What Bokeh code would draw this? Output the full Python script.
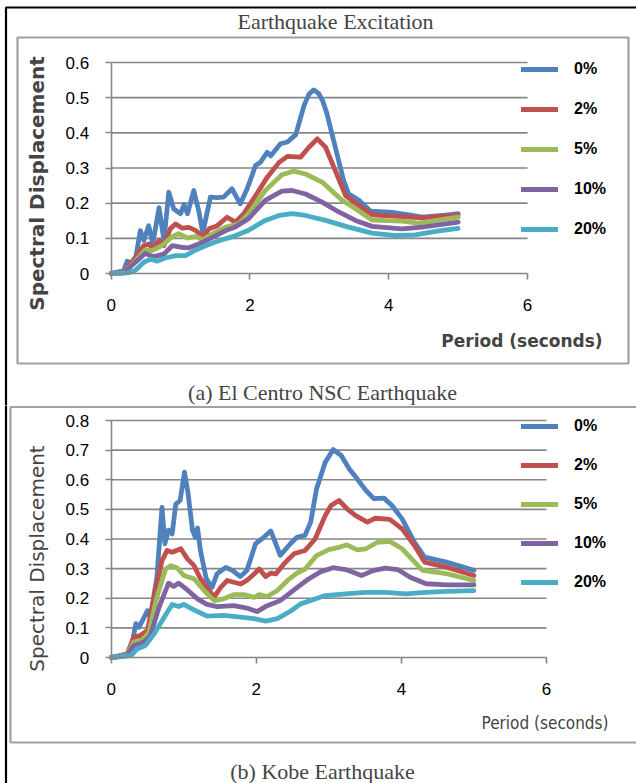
from math import pi

from bokeh.embed import file_html
from bokeh.layouts import column
from bokeh.models import (BoxAnnotation, FixedTicker, Label, Legend, LegendItem,
                          LinearAxis, Range1d)
from bokeh.plotting import figure
from bokeh.resources import INLINE

# ─── data ─────────────────────────────────────────────────────────────────
damping = ["0%", "2%", "5%", "10%", "20%"]
colors = ["#4F81BD", "#C0504D", "#9BBB59", "#8064A2", "#4BACC6"]
x_ticks = [0, 2, 4, 6]
elcentro_y_ticks = [0, 0.1, 0.2, 0.3, 0.4, 0.5, 0.6]
kobe_y_ticks = [0, 0.1, 0.2, 0.3, 0.4, 0.5, 0.6, 0.7, 0.8]

# El Centro NSC
elcentro_t_0 = [0, 0.18, 0.23, 0.30, 0.35, 0.42, 0.47, 0.54, 0.60, 0.69, 0.76, 0.83, 0.90,
                1.00, 1.05, 1.10, 1.19, 1.26, 1.32, 1.43, 1.53, 1.62, 1.74, 1.86, 1.96,
                2.08, 2.15, 2.25, 2.30, 2.44, 2.54, 2.66, 2.78, 2.85, 2.92, 2.99, 3.05,
                3.11, 3.23, 3.35, 3.42, 3.57, 3.74, 4.05, 4.29, 4.48, 4.86, 5.0]
elcentro_sd_0 = [0, 0.008, 0.035, 0.027, 0.041, 0.122, 0.094, 0.136, 0.085, 0.187, 0.094,
                 0.231, 0.184, 0.170, 0.196, 0.170, 0.236, 0.179, 0.116, 0.217, 0.216,
                 0.217, 0.241, 0.198, 0.241, 0.307, 0.316, 0.345, 0.335, 0.369, 0.374,
                 0.395, 0.478, 0.510, 0.522, 0.512, 0.490, 0.454, 0.359, 0.264, 0.227,
                 0.208, 0.177, 0.174, 0.167, 0.160, 0.167, 0.170]
elcentro_t_2 = [0, 0.18, 0.35, 0.47, 0.54, 0.61, 0.69, 0.76, 0.85, 0.93, 1.02, 1.12, 1.22,
                1.32, 1.41, 1.53, 1.67, 1.79, 1.91, 2.08, 2.25, 2.42, 2.54, 2.73, 2.85,
                2.97, 3.09, 3.21, 3.38, 3.57, 3.76, 4.19, 4.48, 5.0]
elcentro_sd_2 = [0, 0.004, 0.046, 0.079, 0.084, 0.070, 0.094, 0.079, 0.127, 0.141, 0.129,
                 0.131, 0.122, 0.103, 0.127, 0.136, 0.160, 0.146, 0.170, 0.221, 0.274,
                 0.316, 0.333, 0.331, 0.359, 0.383, 0.359, 0.302, 0.221, 0.193, 0.167,
                 0.162, 0.158, 0.166]
elcentro_t_5 = [0, 0.18, 0.35, 0.49, 0.59, 0.73, 0.88, 0.97, 1.10, 1.22, 1.32, 1.46, 1.65,
                1.84, 1.98, 2.22, 2.46, 2.63, 2.80, 3.04, 3.33, 3.52, 3.76, 4.19, 4.43, 5.0]
elcentro_sd_5 = [0, 0.002, 0.036, 0.067, 0.065, 0.079, 0.105, 0.113, 0.101, 0.105, 0.096,
                 0.113, 0.132, 0.141, 0.170, 0.236, 0.281, 0.291, 0.283, 0.260, 0.208,
                 0.184, 0.152, 0.149, 0.143, 0.160]
elcentro_t_10 = [0, 0.18, 0.35, 0.49, 0.61, 0.76, 0.88, 1.02, 1.12, 1.29, 1.46, 1.65, 1.79,
                 1.98, 2.22, 2.46, 2.61, 2.80, 3.04, 3.28, 3.52, 3.76, 4.19, 4.48, 5.0]
elcentro_sd_10 = [0, 0.002, 0.032, 0.057, 0.048, 0.055, 0.079, 0.074, 0.073, 0.086, 0.103,
                  0.122, 0.132, 0.156, 0.208, 0.234, 0.236, 0.226, 0.203, 0.175, 0.151,
                  0.134, 0.127, 0.132, 0.146]
elcentro_t_20 = [0, 0.25, 0.35, 0.47, 0.57, 0.66, 0.78, 0.93, 1.07, 1.22, 1.36, 1.55, 1.74,
                 1.98, 2.22, 2.42, 2.61, 2.80, 3.09, 3.42, 3.76, 4.10, 4.38, 4.72, 5.0]
elcentro_sd_20 = [0, 0.002, 0.009, 0.032, 0.041, 0.035, 0.044, 0.051, 0.051, 0.067, 0.079,
                  0.093, 0.104, 0.123, 0.151, 0.165, 0.170, 0.165, 0.151, 0.132, 0.115,
                  0.108, 0.110, 0.121, 0.128]

# Kobe
kobe_t_0 = [0, 0.20, 0.27, 0.34, 0.38, 0.43, 0.50, 0.54, 0.63, 0.70, 0.74, 0.79, 0.84,
            0.89, 0.95, 1.01, 1.06, 1.12, 1.16, 1.19, 1.23, 1.31, 1.39, 1.46, 1.58, 1.67,
            1.78, 1.87, 1.99, 2.08, 2.20, 2.33, 2.47, 2.56, 2.67, 2.75, 2.83, 2.95, 3.06,
            3.17, 3.28, 3.39, 3.51, 3.62, 3.76, 3.87, 4.01, 4.18, 4.32, 4.62, 5.0]
kobe_sd_0 = [0, 0.006, 0.024, 0.114, 0.102, 0.124, 0.158, 0.136, 0.271, 0.507, 0.384,
             0.430, 0.417, 0.518, 0.530, 0.626, 0.553, 0.430, 0.406, 0.437, 0.361, 0.266,
             0.237, 0.283, 0.304, 0.294, 0.273, 0.294, 0.384, 0.401, 0.427, 0.345, 0.384,
             0.406, 0.412, 0.457, 0.569, 0.659, 0.702, 0.682, 0.637, 0.603, 0.564, 0.536,
             0.538, 0.513, 0.468, 0.389, 0.339, 0.322, 0.294]
kobe_t_2 = [0, 0.22, 0.31, 0.40, 0.50, 0.61, 0.70, 0.77, 0.84, 0.96, 1.05, 1.14, 1.23,
            1.35, 1.42, 1.51, 1.60, 1.69, 1.78, 1.87, 1.97, 2.04, 2.13, 2.20, 2.27, 2.38,
            2.52, 2.67, 2.81, 2.95, 3.03, 3.14, 3.25, 3.37, 3.53, 3.64, 3.84, 4.01, 4.18,
            4.32, 4.62, 5.0]
kobe_sd_2 = [0, 0.012, 0.068, 0.074, 0.091, 0.226, 0.327, 0.361, 0.355, 0.367, 0.333,
             0.311, 0.266, 0.226, 0.204, 0.237, 0.260, 0.254, 0.248, 0.260, 0.282, 0.299,
             0.273, 0.285, 0.282, 0.316, 0.350, 0.361, 0.400, 0.479, 0.513, 0.530, 0.502,
             0.479, 0.457, 0.470, 0.466, 0.434, 0.378, 0.322, 0.305, 0.277]
kobe_t_5 = [0, 0.22, 0.31, 0.43, 0.52, 0.63, 0.75, 0.82, 0.91, 1.00, 1.14, 1.28, 1.42,
            1.55, 1.69, 1.83, 1.97, 2.04, 2.15, 2.29, 2.43, 2.56, 2.67, 2.83, 3.00, 3.14,
            3.25, 3.39, 3.51, 3.67, 3.84, 4.01, 4.29, 4.62, 5.0]
kobe_sd_5 = [0, 0.010, 0.052, 0.060, 0.085, 0.204, 0.299, 0.310, 0.302, 0.277, 0.266,
             0.226, 0.192, 0.198, 0.212, 0.212, 0.203, 0.212, 0.206, 0.226, 0.260, 0.285,
             0.298, 0.344, 0.364, 0.372, 0.380, 0.363, 0.367, 0.389, 0.392, 0.367, 0.294,
             0.283, 0.260]
kobe_t_10 = [0, 0.22, 0.31, 0.45, 0.54, 0.66, 0.79, 0.86, 0.93, 1.05, 1.19, 1.32, 1.46,
             1.69, 1.87, 2.01, 2.15, 2.33, 2.52, 2.61, 2.72, 2.89, 3.06, 3.23, 3.45, 3.62,
             3.78, 3.95, 4.12, 4.34, 4.62, 5.0]
kobe_sd_10 = [0, 0.007, 0.040, 0.052, 0.074, 0.170, 0.251, 0.240, 0.251, 0.228, 0.198,
              0.179, 0.172, 0.175, 0.167, 0.155, 0.175, 0.192, 0.228, 0.245, 0.265, 0.290,
              0.303, 0.297, 0.277, 0.294, 0.302, 0.297, 0.271, 0.249, 0.245, 0.245]
kobe_t_20 = [0, 0.27, 0.36, 0.47, 0.59, 0.73, 0.84, 0.93, 1.00, 1.14, 1.32, 1.55, 1.78,
             1.97, 2.13, 2.29, 2.47, 2.61, 2.79, 2.95, 3.23, 3.51, 3.78, 4.06, 4.34, 4.62,
             5.0]
kobe_sd_20 = [0, 0.006, 0.029, 0.040, 0.079, 0.136, 0.179, 0.172, 0.179, 0.161, 0.140,
              0.142, 0.136, 0.131, 0.123, 0.131, 0.156, 0.181, 0.196, 0.209, 0.215, 0.220,
              0.220, 0.215, 0.220, 0.223, 0.226]

elcentro = [(elcentro_t_0, elcentro_sd_0), (elcentro_t_2, elcentro_sd_2),
            (elcentro_t_5, elcentro_sd_5), (elcentro_t_10, elcentro_sd_10),
            (elcentro_t_20, elcentro_sd_20)]
kobe = [(kobe_t_0, kobe_sd_0), (kobe_t_2, kobe_sd_2), (kobe_t_5, kobe_sd_5),
        (kobe_t_10, kobe_sd_10), (kobe_t_20, kobe_sd_20)]

# ─── look ──────────────────────────────────────────────────────────────────
W = 636
GRID = "#868686"
BOX = "#a0a0a0"
SERIF = "Liberation Serif"
SANS = "Liberation Sans"


def build_panel(series, y_ticks, fig_top, fig_height, x6_px, y0_px, ymax_px, box,
                ylabel_bold, ylabel_size, ylabel_y, xlabel, xlabel_font, xlabel_size,
                xlabel_style, xlabel_y, legend_top, legend_pitch, caption, caption_y,
                title=None):
    # page pixel anchors -> data coordinates (the frame is the whole canvas)
    x0_px = 110.7
    ymax = y_ticks[-1]
    kx = (x6_px - x0_px) / x_ticks[-1]
    ky = (y0_px - ymax_px) / ymax

    def dx(px):
        return (px - x0_px) / kx

    def dy(py):
        return (y0_px - py) / ky

    p = figure(width=W, height=fig_height,
               x_range=Range1d(dx(0), dx(W)),
               y_range=Range1d(dy(fig_top + fig_height), dy(fig_top)),
               x_axis_type=None, y_axis_type=None, min_border=0,
               output_backend="svg", toolbar_location=None,
               outline_line_color=None, border_fill_color="white")

    # horizontal gridlines, only across the plot area
    p.segment(x0=0, x1=x_ticks[-1], y0=y_ticks[1:], y1=y_ticks[1:],
              line_color=GRID, line_width=1.6)

    renderers = []
    for (t, sd), c in zip(series, colors):
        r = p.line(t, sd, line_color=c, line_width=4.8, line_join="round",
                   line_cap="round")
        renderers.append(r)

    axis_style = dict(axis_line_color=GRID, axis_line_width=1.6,
                      major_tick_line_color=GRID, major_tick_line_width=1.6,
                      major_tick_in=0, major_tick_out=6,
                      minor_tick_in=0, minor_tick_out=0,
                      major_label_text_font=SANS, major_label_text_font_size="17px",
                      major_label_text_color="black")
    xax = LinearAxis(fixed_location=0, bounds=(0, x_ticks[-1]),
                     ticker=FixedTicker(ticks=x_ticks), major_label_standoff=19,
                     **axis_style)
    yax = LinearAxis(fixed_location=0, bounds=(0, ymax),
                     ticker=FixedTicker(ticks=y_ticks), major_label_standoff=16,
                     major_label_overrides={0: "0"}, **axis_style)
    p.add_layout(xax, "below")
    p.add_layout(yax, "left")

    # legend to the right of the plot area
    gh = 20
    gap = int(round(legend_pitch - gh))
    leg_h = 5 * gh + 4 * gap
    leg_top_canvas = legend_top - gh / 2 - fig_top
    legend = Legend(items=[LegendItem(label=lab, renderers=[r])
                           for lab, r in zip(damping, renderers)],
                    location=(521, int(round(fig_height - leg_top_canvas - leg_h))),
                    orientation="vertical", glyph_width=37, glyph_height=gh,
                    label_height=gh, label_standoff=16, spacing=gap,
                    padding=0, margin=0, border_line_color=None,
                    background_fill_alpha=0, label_text_font=SANS,
                    label_text_font_size="16px", label_text_font_style="bold",
                    label_text_color="black")
    p.add_layout(legend)

    # axis titles
    p.add_layout(Label(x=dx(36.5), y=dy(ylabel_y), text="Spectral Displacement",
                       angle=pi / 2, text_align="center", text_baseline="middle",
                       text_font="DejaVu Sans", text_font_size=ylabel_size,
                       text_font_style="bold" if ylabel_bold else "normal"))
    p.add_layout(Label(x=dx(608), y=dy(xlabel_y), text=xlabel, text_align="right",
                       text_baseline="middle", text_font=xlabel_font,
                       text_font_size=xlabel_size, text_font_style=xlabel_style))

    # chart-area frame, figure caption, outer page border
    p.add_layout(BoxAnnotation(left=dx(box[0]), top=dy(box[1]), right=dx(box[2]),
                               bottom=dy(box[3]), fill_alpha=0, line_color=BOX,
                               line_alpha=1, line_width=2.2))
    p.add_layout(BoxAnnotation(left=dx(5.5), top=dy(7 if title else fig_top - 10),
                               right=dx(W + 10), bottom=dy(fig_top + fig_height + 10),
                               fill_alpha=0, line_color="black", line_alpha=1,
                               line_width=2.2))
    p.add_layout(Label(x=dx(322), y=dy(caption_y), text=caption, text_align="center",
                       text_baseline="middle", text_font=SERIF, text_font_size="22px"))
    if title:
        p.add_layout(Label(x=dx(335), y=dy(21), text=title, text_align="center",
                           text_baseline="middle", text_font=SERIF,
                           text_font_size="22px"))
    return p


p1 = build_panel(elcentro, elcentro_y_ticks, fig_top=0, fig_height=405,
                 x6_px=527, y0_px=273, ymax_px=62, box=(17, 37, 628, 363),
                 ylabel_bold=True, ylabel_size="20px", ylabel_y=183,
                 xlabel="Period  (seconds)", xlabel_font="DejaVu Sans",
                 xlabel_size="17px", xlabel_style="bold", xlabel_y=340,
                 legend_top=69, legend_pitch=40.5,
                 caption="(a) El Centro NSC Earthquake", caption_y=392,
                 title="Earthquake Excitation")
p2 = build_panel(kobe, kobe_y_ticks, fig_top=405, fig_height=378,
                 x6_px=546, y0_px=657, ymax_px=420, box=(10, 406.5, 700, 742),
                 ylabel_bold=False, ylabel_size="20px", ylabel_y=558,
                 xlabel="Period (seconds)",
                 xlabel_font="DejaVu Sans Condensed, Liberation Sans, sans-serif",
                 xlabel_size="17px", xlabel_style="normal", xlabel_y=722,
                 legend_top=426, legend_pitch=39,
                 caption="(b) Kobe Earthquake", caption_y=771)

layout = column(p1, p2, spacing=0)
open("out.html", "w").write(file_html(layout, INLINE, title="Earthquake Excitation"))
